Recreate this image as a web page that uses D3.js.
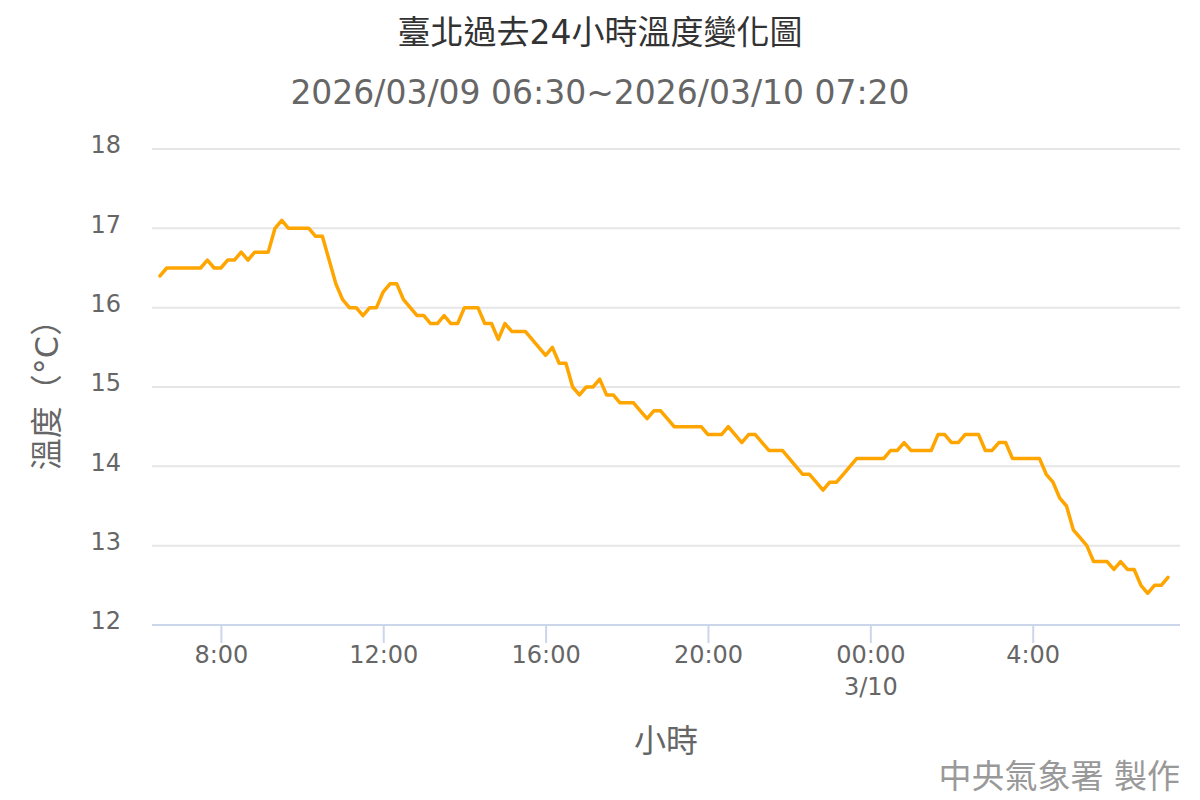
<!DOCTYPE html>
<html>
<head>
<meta charset="utf-8">
<script src="https://cdn.jsdelivr.net/npm/d3@7"></script>
<style>
  html, body { margin: 0; padding: 0; background: #fff; }
  svg text { font-family: "DejaVu Sans", "Noto Sans CJK TC", sans-serif; }
</style>
</head>
<body>
<div id="chart"></div>
<script>
// 10 minute readings, 2026/03/09 06:30 -> 2026/03/10 07:20
const startTime = '2026-03-09 06:30'
const stepMinutes = 10
const temps = [
  16.4, 16.5, 16.5, 16.5, 16.5, 16.5, 16.5, 16.6, 16.5, 16.5,
  16.6, 16.6, 16.7, 16.6, 16.7, 16.7, 16.7, 17.0, 17.1, 17.0,
  17.0, 17.0, 17.0, 16.9, 16.9, 16.6, 16.3, 16.1, 16.0, 16.0,
  15.9, 16.0, 16.0, 16.2, 16.3, 16.3, 16.1, 16.0, 15.9, 15.9,
  15.8, 15.8, 15.9, 15.8, 15.8, 16.0, 16.0, 16.0, 15.8, 15.8,
  15.6, 15.8, 15.7, 15.7, 15.7, 15.6, 15.5, 15.4, 15.5, 15.3,
  15.3, 15.0, 14.9, 15.0, 15.0, 15.1, 14.9, 14.9, 14.8, 14.8,
  14.8, 14.7, 14.6, 14.7, 14.7, 14.6, 14.5, 14.5, 14.5, 14.5,
  14.5, 14.4, 14.4, 14.4, 14.5, 14.4, 14.3, 14.4, 14.4, 14.3,
  14.2, 14.2, 14.2, 14.1, 14.0, 13.9, 13.9, 13.8, 13.7, 13.8,
  13.8, 13.9, 14.0, 14.1, 14.1, 14.1, 14.1, 14.1, 14.2, 14.2,
  14.3, 14.2, 14.2, 14.2, 14.2, 14.4, 14.4, 14.3, 14.3, 14.4,
  14.4, 14.4, 14.2, 14.2, 14.3, 14.3, 14.1, 14.1, 14.1, 14.1,
  14.1, 13.9, 13.8, 13.6, 13.5, 13.2, 13.1, 13.0, 12.8, 12.8,
  12.8, 12.7, 12.8, 12.7, 12.7, 12.5, 12.4, 12.5, 12.5, 12.6
]
const yTicks = [12, 13, 14, 15, 16, 17, 18]

const titleText = '臺北過去24小時溫度變化圖'
const subtitleText = '2026/03/09 06:30~2026/03/10 07:20'
const xTitle = '小時'
const yTitle = '溫度（°C）'
const creditText = '中央氣象署 製作'

const width = 1200
const height = 800
const plotLeft = 152
const plotRight = 1180
const plotTop = 149
const plotBottom = 625
const font = '"DejaVu Sans", "Noto Sans CJK TC", sans-serif'

const parseTime = d3.timeParse('%Y-%m-%d %H:%M')
const t0 = parseTime(startTime)
const data = temps.map((v, i) => ({ t: d3.timeMinute.offset(t0, i * stepMinutes), v: v }))

const svg = d3.select('#chart').append('svg')
  .attr('width', width)
  .attr('height', height)

// x: first reading sits a little inside the plot edge (axis padding)
const x = d3.scaleTime()
  .domain(d3.extent(data, d => d.t))
  .range([160, 1168])

const y = d3.scaleLinear()
  .domain([12, 18])
  .range([plotBottom, plotTop])

// Titles
svg.append('text')
  .attr('x', width / 2)
  .attr('y', 44)
  .attr('text-anchor', 'middle')
  .style('font-size', '33px')
  .style('fill', '#333333')
  .text(titleText)

svg.append('text')
  .attr('x', width / 2)
  .attr('y', 104)
  .attr('text-anchor', 'middle')
  .style('font-size', '33px')
  .style('fill', '#666666')
  .text(subtitleText)

// Grid
svg.append('g')
  .selectAll('line')
  .data(yTicks)
  .join('line')
  .attr('x1', plotLeft)
  .attr('x2', plotRight)
  .attr('y1', d => y(d))
  .attr('y2', d => y(d))
  .attr('stroke', '#e6e6e6')
  .attr('stroke-width', 2)

// Y axis labels
const gy = svg.append('g')
  .attr('transform', `translate(${plotLeft},0)`)
  .call(d3.axisLeft(y).tickValues(yTicks).tickSize(0).tickPadding(31).tickFormat(d3.format('d')))
gy.select('.domain').remove()
gy.selectAll('text')
  .attr('dy', '0.32em')
  .attr('y', -4)
  .style('font-size', '24px')
  .style('fill', '#666666')
  .style('font-family', font)

// X axis
const gx = svg.append('g')
  .attr('transform', `translate(0,${plotBottom})`)
  .call(d3.axisBottom(x).ticks(d3.timeHour.every(4)).tickSize(18).tickFormat(''))
gx.select('.domain').remove()
gx.selectAll('.tick line')
  .attr('stroke', '#ccd6eb')
  .attr('stroke-width', 2)

gx.selectAll('.tick').each(function(d) {
  const h = d.getHours()
  const t = d3.select(this).select('text')
    .attr('y', 38)
    .attr('dy', null)
    .style('font-size', '24px')
    .style('fill', '#666666')
    .style('font-family', font)
    .text(null)
  if (h === 0) {
    t.append('tspan').attr('x', 0).attr('y', 38).text('00:00')
    t.append('tspan').attr('x', 0).attr('y', 70).text(`${d.getMonth() + 1}/${d.getDate()}`)
  } else {
    t.append('tspan').attr('x', 0).attr('y', 38).text(`${h}:00`)
  }
})

svg.append('line')
  .attr('x1', plotLeft)
  .attr('x2', plotRight)
  .attr('y1', plotBottom)
  .attr('y2', plotBottom)
  .attr('stroke', '#ccd6eb')
  .attr('stroke-width', 2)

// Axis titles
svg.append('text')
  .attr('x', (plotLeft + plotRight) / 2)
  .attr('y', 752)
  .attr('text-anchor', 'middle')
  .style('font-size', '32px')
  .style('fill', '#666666')
  .text(xTitle)

svg.append('text')
  .attr('transform', `translate(58,${(plotTop + plotBottom) / 2}) rotate(-90)`)
  .attr('text-anchor', 'middle')
  .style('font-size', '32px')
  .style('fill', '#666666')
  .text(yTitle)

// Temperature line
const line = d3.line()
  .x(d => x(d.t))
  .y(d => y(d.v))

svg.append('path')
  .datum(data)
  .attr('d', line)
  .attr('fill', 'none')
  .attr('stroke', '#ffa500')
  .attr('stroke-width', 3.5)
  .attr('stroke-linejoin', 'round')
  .attr('stroke-linecap', 'round')

// Credits
svg.append('text')
  .attr('x', 1180)
  .attr('y', 788)
  .attr('text-anchor', 'end')
  .style('font-size', '33px')
  .style('fill', '#999999')
  .text(creditText)
</script>
</body>
</html>
